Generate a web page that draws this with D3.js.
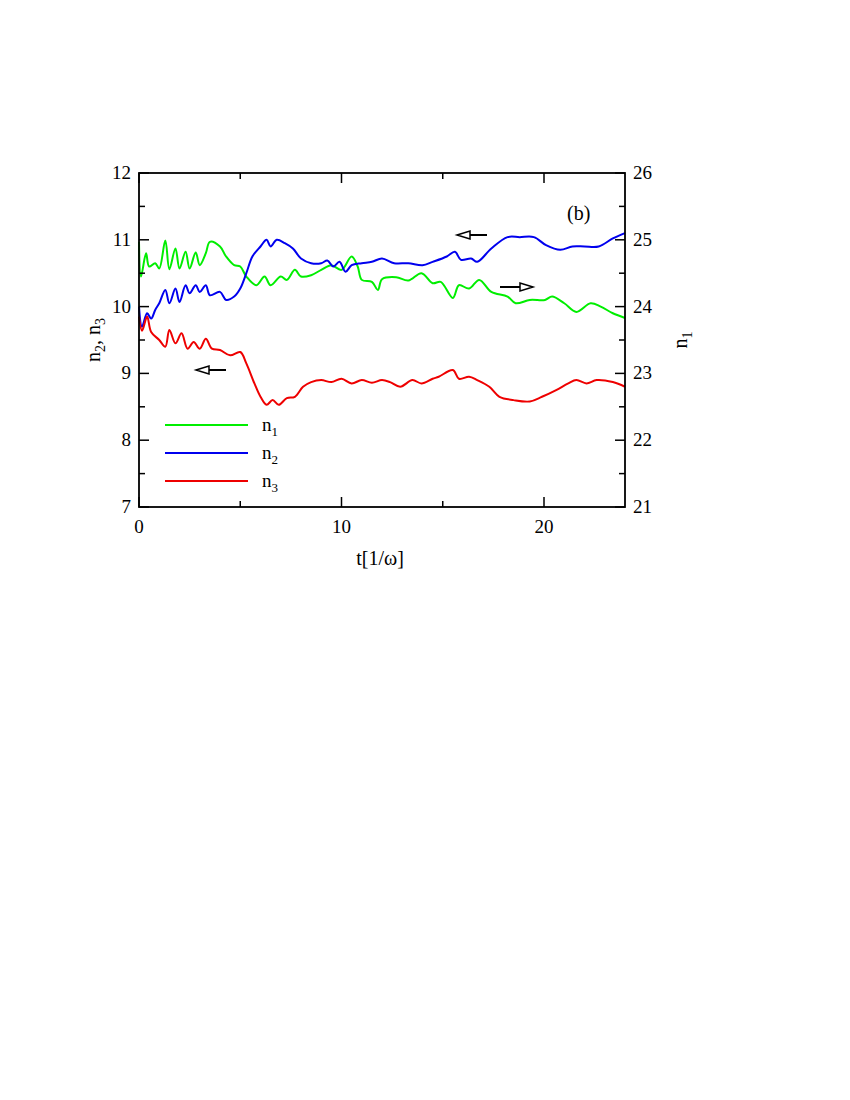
<!DOCTYPE html><html><head><meta charset="utf-8">
<script src="https://cdn.jsdelivr.net/npm/d3@7"></script>
<style>body{margin:0;background:#fff}text{font-family:"Liberation Serif","Times New Roman",serif}</style></head><body>
<svg id="c" width="850" height="1100"></svg>
<script>
const n1T=[0,0.1,0.35,0.5,0.8,1.0,1.3,1.5,1.8,2.0,2.3,2.5,2.8,3.0,3.3,3.5,4.0,4.3,4.7,5.0,5.3,5.8,6.2,6.5,7.0,7.3,7.7,8.0,8.5,9.0,9.5,10.0,10.5,10.8,11.0,11.5,11.8,12.0,12.7,13.3,13.95,14.5,14.9,15.5,15.8,16.3,16.8,17.4,18.2,18.6,19.3,20.05,20.4,21.0,21.6,22.3,22.8,23.4,24.0];
const n1V=[24.97,24.45,24.8,24.6,24.65,24.57,24.99,24.56,24.87,24.57,24.82,24.57,24.81,24.62,24.8,24.97,24.9,24.75,24.62,24.6,24.45,24.32,24.45,24.32,24.45,24.4,24.55,24.45,24.47,24.55,24.62,24.55,24.75,24.6,24.4,24.37,24.25,24.41,24.44,24.39,24.5,24.35,24.37,24.13,24.32,24.27,24.4,24.22,24.15,24.05,24.1,24.1,24.15,24.05,23.92,24.05,24.0,23.9,23.83];
const n2T=[0,0.15,0.4,0.6,0.8,1.0,1.3,1.5,1.8,2.0,2.3,2.5,2.8,3.0,3.3,3.5,4.0,4.3,4.7,5.0,5.3,5.6,6.0,6.3,6.5,6.8,7.2,7.6,8.0,8.5,9.0,9.3,9.6,9.9,10.2,10.5,11.0,11.5,12.0,12.6,13.3,14.0,14.5,15.2,15.6,15.9,16.4,16.7,17.4,18.2,18.8,19.5,20.1,20.8,21.4,22.0,22.7,23.4,24.0];
const n2V=[10.0,9.7,9.9,9.82,9.95,10.05,10.25,10.05,10.27,10.07,10.32,10.2,10.32,10.22,10.32,10.17,10.22,10.1,10.15,10.27,10.5,10.75,10.9,11.0,10.9,11.0,10.95,10.87,10.72,10.65,10.65,10.69,10.6,10.67,10.52,10.62,10.65,10.67,10.72,10.65,10.65,10.62,10.67,10.75,10.82,10.7,10.72,10.67,10.87,11.04,11.04,11.04,10.92,10.85,10.9,10.9,10.9,11.02,11.1];
const n3T=[0,0.15,0.4,0.6,1.0,1.3,1.5,1.8,2.1,2.4,2.7,3.0,3.3,3.6,4.0,4.5,5.0,5.3,5.7,6.0,6.3,6.6,6.9,7.3,7.7,8.1,8.5,9.0,9.5,10.0,10.5,11.0,11.5,12.0,12.4,12.9,13.5,13.95,14.5,14.8,15.5,15.8,16.3,16.7,17.3,17.8,18.5,19.3,19.9,20.6,21.2,21.6,22.1,22.6,23.4,24.0];
const n3V=[9.85,9.64,9.85,9.62,9.5,9.4,9.65,9.45,9.6,9.37,9.47,9.37,9.52,9.37,9.35,9.27,9.32,9.15,8.85,8.65,8.53,8.6,8.53,8.63,8.65,8.8,8.87,8.9,8.87,8.92,8.85,8.9,8.86,8.9,8.87,8.8,8.9,8.85,8.92,8.95,9.05,8.92,8.95,8.9,8.8,8.65,8.6,8.58,8.65,8.75,8.85,8.9,8.85,8.9,8.87,8.8];
const xTicks=[0,10,20], yLTicks=[7,8,9,10,11,12], yRTicks=[21,22,23,24,25,26];
const legendLabels=[["n","1"],["n","2"],["n","3"]];
const colors=["#00ee00","#0000ee","#ee0000"];

const svg=d3.select("#c");
const L=139,R=625,T=173,B=507;
const x=d3.scaleLinear().domain([0,24]).range([L,R]);
const yl=d3.scaleLinear().domain([7,12]).range([B,T]);
const yr=d3.scaleLinear().domain([21,26]).range([B,T]);
const line=(ys)=>d3.line().x(d=>x(d[0])).y(d=>ys(d[1])).curve(d3.curveCatmullRom);
const zip=(a,b)=>a.map((t,i)=>[t,b[i]]);
const g=svg.append("g");
[[zip(n1T,n1V),yr,colors[0]],[zip(n2T,n2V),yl,colors[1]],[zip(n3T,n3V),yl,colors[2]]].forEach(([d,s,c])=>{
 g.append("path").attr("d",line(s)(d)).attr("fill","none").attr("stroke",c).attr("stroke-width",2);
});
svg.append("rect").attr("x",L).attr("y",T).attr("width",R-L).attr("height",B-T).attr("fill","none").attr("stroke","#000").attr("stroke-width",1.8);
const tk=svg.append("g").attr("stroke","#000").attr("stroke-width",1.5);
d3.range(0,25,5).forEach(t=>{const len=t%10==0?10:6;
 tk.append("line").attr("x1",x(t)).attr("x2",x(t)).attr("y1",B).attr("y2",B-len);
 tk.append("line").attr("x1",x(t)).attr("x2",x(t)).attr("y1",T).attr("y2",T+len);});
d3.range(7,12.01,0.5).forEach(v=>{const len=v%1==0?10:6;
 tk.append("line").attr("x1",L).attr("x2",L+len).attr("y1",yl(v)).attr("y2",yl(v));
 tk.append("line").attr("x1",R).attr("x2",R-len).attr("y1",yl(v)).attr("y2",yl(v));});
const fs=19;
xTicks.forEach(t=>svg.append("text").attr("x",x(t)).attr("y",B+26).attr("text-anchor","middle").attr("font-size",fs).text(t));
yLTicks.forEach(v=>svg.append("text").attr("x",L-8).attr("y",yl(v)+6).attr("text-anchor","end").attr("font-size",fs).text(v));
yRTicks.forEach(v=>svg.append("text").attr("x",R+8).attr("y",yr(v)+6).attr("font-size",fs).text(v));
svg.append("text").attr("x",380).attr("y",565).attr("text-anchor","middle").attr("font-size",20).text("t[1/ω]");
const lt=svg.append("text").attr("transform","translate(100,340) rotate(-90)").attr("text-anchor","middle").attr("font-size",20);
lt.append("tspan").text("n");lt.append("tspan").attr("font-size",14).attr("dy",5).text("2");
lt.append("tspan").attr("dy",-5).text(", n");lt.append("tspan").attr("font-size",14).attr("dy",5).text("3");
const rt=svg.append("text").attr("transform","translate(687,340) rotate(-90)").attr("text-anchor","middle").attr("font-size",20);
rt.append("tspan").text("n");rt.append("tspan").attr("font-size",14).attr("dy",5).text("1");
svg.append("text").attr("x",567).attr("y",220).attr("font-size",20).text("(b)");
legendLabels.forEach((l,i)=>{const yy=425+i*28;
 svg.append("line").attr("x1",165).attr("x2",248).attr("y1",yy).attr("y2",yy).attr("stroke",colors[i]).attr("stroke-width",2);
 const t=svg.append("text").attr("x",262).attr("y",yy+6).attr("font-size",19);
 t.append("tspan").text(l[0]);t.append("tspan").attr("font-size",13).attr("dy",5).text(l[1]);});
function arrow(x1,x2,y){const dir=Math.sign(x2-x1);
 svg.append("line").attr("x1",x1).attr("x2",x2-dir*10).attr("y1",y).attr("y2",y).attr("stroke","#000").attr("stroke-width",2);
 svg.append("path").attr("d",`M${x2},${y}L${x2-dir*13},${y-4}L${x2-dir*13},${y+4}Z`).attr("fill","#fff").attr("stroke","#000").attr("stroke-width",1.5);}
arrow(226,196,370);arrow(487,457,235);arrow(500,533,287);
</script></body></html>
